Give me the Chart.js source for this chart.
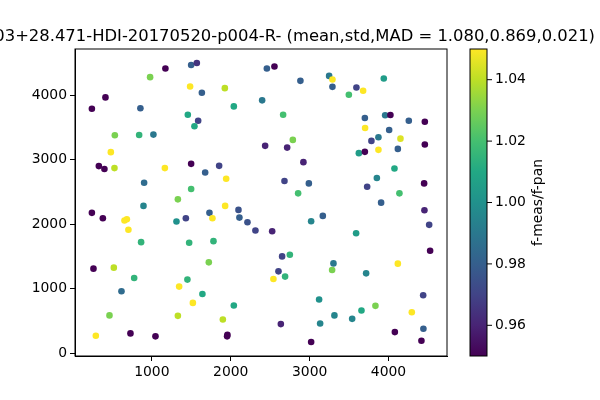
<!DOCTYPE html>
<html lang="en">

<head>
    <meta charset="UTF-8">
    <title>f-meas/f-pan scatter</title>
    <script src="https://cdn.jsdelivr.net/npm/chart.js"></script>
    <style>
        body {
            margin: 0;
            background: #fff;
        }

        #chart-container {
            width: 600px;
            height: 400px;
        }
    </style>
</head>

<body>
    <div id="chart-container">
        <canvas id="scatterChart"></canvas>
    </div>

    <script>
        // point positions and f-meas/f-pan ratio (colour)
        const xVals = [1172, 1498, 1570, 978, 412, 240, 855, 1485, 1634, 1925,
            2398, 2039, 1456, 1587, 1540, 531, 839, 1020, 480, 2436,
            328, 399, 526, 1165, 1498, 1853, 1676, 1942, 902, 1498,
            1330, 2458, 2554, 2883, 3247, 3289, 3289, 3593, 3678, 3497,
            3940, 2664, 3700, 3957, 4024, 4257, 4460, 3703, 4008, 2787,
            2715, 3783, 3872, 4151, 4460, 3624, 3700, 3872, 4118, 2921,
            4075, 3852, 2681, 2990, 3729, 4451, 2854, 4138, 3906, 894,
            1929, 240, 379, 653, 683, 703, 1312, 1431, 1730, 1768,
            2098, 2110, 2212, 2313, 864, 1473, 1781, 260, 518, 1722,
            776, 1451, 615, 1346, 1641, 1520, 2039, 463, 1330, 1900,
            290, 729, 1046, 1958, 1954, 4455, 4515, 3019, 3167, 2525,
            3589, 4527, 2651, 2749, 3302, 3285, 3716, 4118, 2605, 2541,
            2689, 3120, 4439, 3657, 3834, 4295, 3314, 3539, 3133, 2635,
            4442, 4080, 3019, 4417];
        const yVals = [4410, 4465, 4496, 4276, 3963, 3787, 3794, 4132, 4034, 4106,
            3917, 3824, 3695, 3602, 3516, 3378, 3382, 3387, 3116, 3213,
            2900, 2854, 2869, 2869, 2935, 2904, 2801, 2704, 2643, 2545,
            2385, 4410, 4441, 4219, 4296, 4240, 4126, 4117, 4065, 4003,
            4256, 3695, 3644, 3686, 3690, 3602, 3587, 3490, 3459, 3305,
            3186, 3290, 3347, 3325, 3233, 3100, 3120, 3151, 3166, 2961,
            2863, 2715, 2669, 2632, 2581, 2632, 2478, 2478, 2334, 2284,
            2284, 2176, 2092, 2057, 2077, 1914, 2042, 2092, 2176, 2092,
            2222, 2103, 2031, 1903, 1723, 1713, 1738, 1313, 1328, 1410,
            1168, 1143, 963, 1035, 921, 783, 743, 589, 582, 527,
            274, 311, 265, 290, 265, 2216, 1991, 2046, 2129, 1892,
            1861, 1590, 1502, 1528, 1394, 1291, 1240, 1390, 1271, 1153,
            1190, 835, 901, 666, 737, 639, 589, 536, 465, 455,
            382, 331, 177, 197];
        const ratioVals = [0.94, 0.98, 0.965, 1.03, 0.94, 0.94, 0.98, 1.06, 0.98, 1.04,
            0.99, 1.01, 1.01, 0.97, 1.01, 1.03, 1.015, 0.99, 1.06, 0.96,
            0.94, 0.94, 1.04, 1.06, 0.94, 0.97, 0.98, 1.06, 0.985, 1.02,
            1.03, 0.98, 0.94, 0.98, 0.99, 1.06, 0.98, 0.97, 1.06, 1.02,
            1.005, 1.02, 0.98, 0.99, 0.94, 0.98, 0.94, 1.06, 0.98, 1.03,
            0.96, 0.97, 0.99, 1.045, 0.94, 1.005, 0.94, 1.06, 0.98, 0.96,
            1.01, 0.995, 0.97, 0.98, 0.97, 0.94, 1.02, 1.02, 0.98, 0.995,
            1.06, 0.94, 0.94, 1.06, 1.06, 1.06, 1.0, 0.97, 0.98, 1.06,
            0.975, 0.98, 0.975, 0.97, 1.015, 1.015, 1.015, 0.94, 1.04, 1.03,
            1.015, 1.015, 0.985, 1.06, 1.01, 1.06, 1.01, 1.03, 1.04, 1.04,
            1.06, 0.94, 0.94, 0.94, 0.94, 0.96, 0.97, 0.995, 0.98, 0.96,
            1.005, 0.94, 0.97, 1.015, 0.99, 1.03, 0.995, 1.06, 0.97, 1.06,
            1.015, 1.0, 0.97, 1.01, 1.03, 1.06, 0.995, 0.995, 0.995, 0.96,
            0.98, 0.94, 0.94, 0.94];

        const xTicks = [1000, 2000, 3000, 4000];
        const yTicks = [0, 1000, 2000, 3000, 4000];
        const cbarTicks = [0.96, 0.98, 1.00, 1.02, 1.04];
        const cbarMin = 0.95;
        const cbarMax = 1.05;

        const titleText = '03+28.471-HDI-20170520-p004-R- (mean,std,MAD = 1.080,0.869,0.021)';
        const cbarLabel = 'f-meas/f-pan';
        const FONT = '"DejaVu Sans", sans-serif';

        // viridis stops
        const viridis = ['#440154', '#482475', '#414487', '#355f8d', '#2a788e',
            '#21918c', '#22a884', '#44bf70', '#7ad151', '#bddf26', '#fde725'];

        function hexToRgb(h) {
            return [parseInt(h.slice(1, 3), 16), parseInt(h.slice(3, 5), 16), parseInt(h.slice(5, 7), 16)];
        }

        function viridisColor(v) {
            let t = (v - cbarMin) / (cbarMax - cbarMin);
            t = Math.max(0, Math.min(1, t));
            const pos = t * (viridis.length - 1);
            const i = Math.min(Math.floor(pos), viridis.length - 2);
            const f = pos - i;
            const a = hexToRgb(viridis[i]);
            const b = hexToRgb(viridis[i + 1]);
            const c = a.map((ch, k) => Math.round(ch + (b[k] - ch) * f));
            return `rgb(${c[0]},${c[1]},${c[2]})`;
        }

        const points = xVals.map((x, i) => ({ x: x, y: yVals[i] }));
        const colors = ratioVals.map(viridisColor);

        // frame, title and colorbar
        const extrasPlugin = {
            id: 'extras',
            afterDraw(chart) {
                const ctx = chart.ctx;
                const area = chart.chartArea;
                ctx.save();

                // spines
                ctx.strokeStyle = '#000';
                ctx.lineWidth = 1;
                ctx.strokeRect(area.left, area.top, area.right - area.left, area.bottom - area.top);

                // title (runs off the left edge like the original)
                ctx.fillStyle = '#000';
                ctx.font = '16.4px ' + FONT;
                ctx.textAlign = 'right';
                ctx.textBaseline = 'alphabetic';
                ctx.fillText(titleText, 595, 41);

                // colorbar
                const cx0 = 470, cx1 = 487;
                const cy0 = area.top, cy1 = area.bottom;
                const grad = ctx.createLinearGradient(0, cy1, 0, cy0);
                viridis.forEach((c, i) => grad.addColorStop(i / (viridis.length - 1), c));
                ctx.fillStyle = grad;
                ctx.fillRect(cx0, cy0, cx1 - cx0, cy1 - cy0);
                ctx.strokeStyle = '#000';
                ctx.strokeRect(cx0, cy0, cx1 - cx0, cy1 - cy0);

                ctx.font = '13.9px ' + FONT;
                ctx.textAlign = 'left';
                ctx.textBaseline = 'middle';
                ctx.fillStyle = '#000';
                cbarTicks.forEach(v => {
                    const y = cy1 - (v - cbarMin) / (cbarMax - cbarMin) * (cy1 - cy0);
                    ctx.beginPath();
                    ctx.moveTo(cx1, y);
                    ctx.lineTo(cx1 + 5, y);
                    ctx.stroke();
                    ctx.fillText(v.toFixed(2), cx1 + 8, y);
                });

                ctx.translate(538, (cy0 + cy1) / 2);
                ctx.rotate(-Math.PI / 2);
                ctx.textAlign = 'center';
                ctx.fillText(cbarLabel, 0, 0);
                ctx.restore();
            }
        };

        const axisCommon = {
            type: 'linear',
            grid: {
                drawOnChartArea: false,
                drawTicks: true,
                tickLength: 5,
                color: '#000',
                lineWidth: 1
            },
            border: { display: true, color: '#000', width: 1 },
            ticks: {
                color: '#000',
                font: { family: FONT, size: 13.9 },
                padding: 3,
                callback: v => String(v)
            }
        };

        const ctxScatter = document.getElementById('scatterChart').getContext('2d');
        new Chart(ctxScatter, {
            type: 'scatter',
            data: {
                datasets: [{
                    data: points,
                    backgroundColor: colors,
                    borderWidth: 0,
                    pointRadius: 3.3,
                    pointHoverRadius: 3.3
                }]
            },
            options: {
                responsive: true,
                maintainAspectRatio: false,
                animation: false,
                layout: { padding: { left: 0, right: 153, top: 49, bottom: 0 } },
                plugins: {
                    legend: { display: false },
                    title: { display: false },
                    tooltip: { enabled: false }
                },
                scales: {
                    x: Object.assign({}, axisCommon, {
                        min: 26,
                        max: 4741,
                        afterBuildTicks: s => { s.ticks = xTicks.map(v => ({ value: v })); },
                        afterFit: s => { s.height = 44; }
                    }),
                    y: Object.assign({}, axisCommon, {
                        min: -39,
                        max: 4712,
                        afterBuildTicks: s => { s.ticks = yTicks.map(v => ({ value: v })); },
                        afterFit: s => { s.width = 75; }
                    })
                }
            },
            plugins: [extrasPlugin]
        });
    </script>
</body>

</html>
